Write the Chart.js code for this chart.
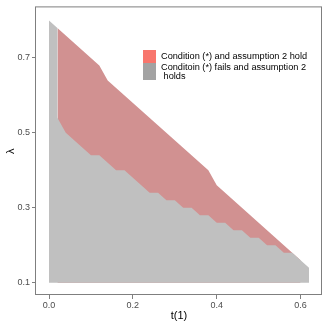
<!DOCTYPE html>
<html>
<head>
<meta charset="utf-8">
<script src="https://cdn.jsdelivr.net/npm/chart.js@4.4.1/dist/chart.umd.min.js"></script>
<style>
html, body { margin: 0; padding: 0; background: #fff; }
#wrap { width: 327px; height: 327px; }
</style>
</head>
<body>
<div id="wrap"><canvas id="myChart" width="327" height="327"></canvas></div>
<script>
// upper edge of the area where condition (*) and assumption 2 hold
const bothT = [0.02, 0.12, 0.14, 0.38, 0.40, 0.60];
const bothLambda = [0.78, 0.68, 0.64, 0.40, 0.36, 0.16];

// upper edge of the area where condition (*) fails (assumption 2 holds)
const failT = [0, 0.02, 0.02, 0.04, 0.10, 0.12, 0.16, 0.18, 0.24, 0.26, 0.28, 0.30, 0.32, 0.34,
               0.36, 0.38, 0.40, 0.42, 0.44, 0.46, 0.48, 0.50, 0.52, 0.54, 0.56, 0.58, 0.60, 0.62];
const failLambda = [0.80, 0.78, 0.54, 0.50, 0.44, 0.44, 0.40, 0.40, 0.34, 0.34, 0.32, 0.32, 0.30, 0.30,
                    0.28, 0.28, 0.26, 0.26, 0.24, 0.24, 0.22, 0.22, 0.20, 0.20, 0.18, 0.18, 0.16, 0.14];

const lambdaFloor = 0.1;
const xTicks = [0, 0.2, 0.4, 0.6];
const yTicks = [0.1, 0.3, 0.5, 0.7];
const legendLabels = ["Condition (*) and assumption 2 hold", "Conditoin (*) fails and assumption 2\n holds"];

const FONT = "'Liberation Sans', Arial, Helvetica, sans-serif";

function toPoints(xs, ys) {
    return xs.map((x, i) => ({x: x, y: ys[i]}));
}

// draws the panel border and the legend inside the plot
const panelExtras = {
    id: 'panelExtras',
    afterDraw(chart) {
        const ctx = chart.ctx;
        const a = chart.chartArea;
        ctx.save();
        ctx.strokeStyle = '#7f7f7f';
        ctx.lineWidth = 1;
        ctx.strokeRect(a.left - 0.5, a.top - 0.5, a.right - a.left, a.bottom - a.top);

        const keyColors = ['#f8766d', '#a3a3a3'];
        const keys = [[143, 50, 13, 13], [143, 63, 13, 17]];
        ctx.font = '9.2px ' + FONT;
        ctx.textBaseline = 'alphabetic';
        ctx.textAlign = 'left';
        const baseY = 59;
        legendLabels.forEach((lab, i) => {
            const k = keys[i];
            ctx.fillStyle = keyColors[i];
            ctx.fillRect(k[0], k[1], k[2], k[3]);
            ctx.fillStyle = '#000';
            lab.split('\n').forEach((line, j) => {
                ctx.fillText(line, 161, baseY + (i === 0 ? 0 : 11) + j * 9);
            });
        });
        ctx.restore();
    }
};

function makeChart() {
    const ctx = document.getElementById('myChart');
    new Chart(ctx, {
        type: 'line',
        data: {
            datasets: [
                {
                    label: legendLabels[1],
                    data: toPoints(failT, failLambda),
                    backgroundColor: 'rgb(192,192,192)',
                    borderColor: 'rgba(0,0,0,0)',
                    borderWidth: 0,
                    pointRadius: 0,
                    tension: 0,
                    fill: {value: lambdaFloor}
                },
                {
                    label: legendLabels[0],
                    data: toPoints(bothT, bothLambda),
                    backgroundColor: 'rgb(209,145,145)',
                    borderColor: 'rgba(0,0,0,0)',
                    borderWidth: 0,
                    pointRadius: 0,
                    tension: 0,
                    fill: {value: lambdaFloor}
                }
            ]
        },
        options: {
            responsive: false,
            animation: false,
            layout: {padding: {left: 0, right: 5, top: 5, bottom: 0}},
            plugins: {
                legend: {display: false},
                tooltip: {enabled: false}
            },
            scales: {
                x: {
                    type: 'linear',
                    min: -0.031,
                    max: 0.651,
                    afterBuildTicks: s => { s.ticks = xTicks.map(v => ({value: v})); },
                    afterFit: s => { s.height = 32; },
                    grid: {drawOnChartArea: false, drawTicks: true, tickLength: 4, color: '#7f7f7f'},
                    border: {display: false},
                    ticks: {
                        color: '#4d4d4d',
                        font: {family: FONT, size: 9},
                        padding: 1,
                        maxRotation: 0,
                        callback: v => v.toFixed(1)
                    },
                    title: {
                        display: true,
                        text: 't(1)',
                        color: '#000',
                        font: {family: FONT, size: 11},
                        padding: {top: 0, bottom: 4}
                    }
                },
                y: {
                    type: 'linear',
                    min: 0.067,
                    max: 0.835,
                    afterBuildTicks: s => { s.ticks = yTicks.map(v => ({value: v})); },
                    afterFit: s => { s.width = 36; },
                    grid: {drawOnChartArea: false, drawTicks: true, tickLength: 4, color: '#7f7f7f'},
                    border: {display: false},
                    ticks: {
                        color: '#4d4d4d',
                        font: {family: FONT, size: 9},
                        padding: 2,
                        callback: v => v.toFixed(1)
                    },
                    title: {
                        display: true,
                        text: 'λ',
                        color: '#000',
                        font: {family: FONT, size: 11},
                        padding: {top: 4, bottom: 0}
                    }
                }
            }
        },
        plugins: [panelExtras]
    });
}

makeChart();
</script>
</body>
</html>
